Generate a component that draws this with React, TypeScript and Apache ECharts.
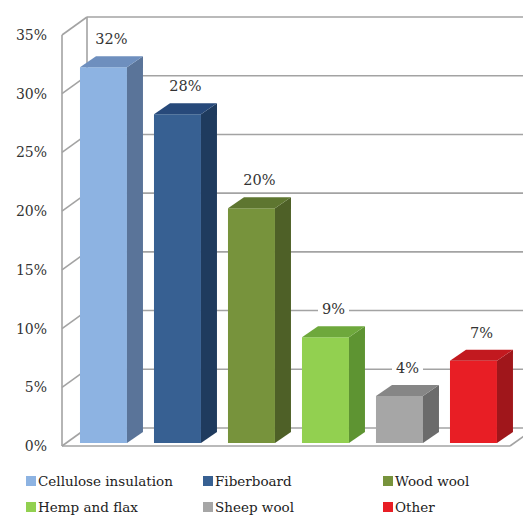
import React, { useEffect, useRef } from "react";
import * as echarts from "echarts";

const categories = ["Cellulose insulation", "Fiberboard", "Wood wool", "Hemp and flax", "Sheep wool", "Other"];
const values = [32, 28, 20, 9, 4, 7];
const frontColors = ["#8DB3E2", "#376092", "#77933C", "#92D050", "#A6A6A6", "#E81E25"];
const sideColors = ["#5A7499", "#1F3B5E", "#4E6027", "#5E9432", "#6B6B6B", "#A0161B"];
const topColors = ["#6E8FBE", "#27497A", "#5E7630", "#6EA83C", "#868686", "#C2191F"];
const yMin = 0;
const yMax = 35;
const yInterval = 5;
const yTicks = [0, 5, 10, 15, 20, 25, 30, 35];

const FONT = "DejaVu Serif";
const WALL_DX = 25;
const WALL_DY = 18;
const BAR_DX = 16;
const BAR_DY = 11;
const LINE = "#A3A3A3";

export default function App() {
  const ref = useRef<HTMLDivElement>(null);
  useEffect(() => {
    const chart = echarts.init(ref.current!, null, { renderer: "svg" });

    const barRender = (idx: number) => (params: any, api: any) => {
      const i = api.value(0);
      const v = api.value(1);
      const base = api.coord([i, 0]);
      const top = api.coord([i, v]);
      const band = api.size([1, 0])[0];
      const w = band * 0.635;
      const x0 = base[0] - band * 0.257;
      const yb = base[1] - 3;
      const yt = top[1] - 3;
      return {
        type: "group",
        children: [
          {
            type: "rect",
            shape: { x: x0, y: yt, width: w, height: yb - yt },
            style: { fill: frontColors[idx] },
          },
          {
            type: "polygon",
            shape: {
              points: [
                [x0 + w, yt],
                [x0 + w + BAR_DX, yt - BAR_DY],
                [x0 + w + BAR_DX, yb - BAR_DY],
                [x0 + w, yb],
              ],
            },
            style: { fill: sideColors[idx] },
          },
          {
            type: "polygon",
            shape: {
              points: [
                [x0, yt],
                [x0 + w, yt],
                [x0 + w + BAR_DX, yt - BAR_DY],
                [x0 + BAR_DX, yt - BAR_DY],
              ],
            },
            style: { fill: topColors[idx] },
          },
          {
            type: "text",
            style: {
              text: v + "%",
              x: x0 + (w + BAR_DX) / 2,
              y: yt - BAR_DY - 17,
              align: "center",
              verticalAlign: "middle",
              fontFamily: FONT,
              fontSize: 14.5,
              fill: "#333333",
              backgroundColor: "#ffffff",
              padding: [1, 4],
            },
          },
        ],
      };
    };

    const frameRender = (params: any, api: any) => {
      const t = api.value(1);
      const cs = params.coordSys;
      const L = cs.x;
      const R = cs.x + cs.width + 4;
      const y = api.coord([0, t])[1];
      const children: any[] = [
        {
          type: "line",
          shape: { x1: L + WALL_DX, y1: y - WALL_DY, x2: R + WALL_DX + 40, y2: y - WALL_DY },
          style: { stroke: LINE, lineWidth: 1.6 },
        },
        {
          type: "line",
          shape: { x1: L, y1: y, x2: L + WALL_DX, y2: y - WALL_DY },
          style: { stroke: LINE, lineWidth: 1.6 },
        },
      ];
      if (t === yMin) {
        const yTop = api.coord([0, yMax])[1];
        children.push(
          {
            type: "line",
            shape: { x1: L, y1: y, x2: R, y2: y },
            style: { stroke: LINE, lineWidth: 1.6 },
          },
          {
            type: "line",
            shape: { x1: R, y1: y, x2: R + WALL_DX, y2: y - WALL_DY },
            style: { stroke: LINE, lineWidth: 1.6 },
          },
          {
            type: "line",
            shape: { x1: L, y1: y, x2: L, y2: yTop },
            style: { stroke: LINE, lineWidth: 1.6 },
          },
          {
            type: "line",
            shape: { x1: L + WALL_DX, y1: y - WALL_DY, x2: L + WALL_DX, y2: yTop - WALL_DY },
            style: { stroke: LINE, lineWidth: 1.6 },
          }
        );
      }
      return { type: "group", children };
    };

    const legendLefts = [26, 203, 383];
    const legendTops = [474, 500];

    chart.setOption({
      animation: false,
      backgroundColor: "#ffffff",
      grid: { left: 62, top: 35, bottom: 70, right: 17 },
      xAxis: {
        type: "category",
        data: categories,
        axisLine: { show: false },
        axisTick: { show: false },
        axisLabel: { show: false },
        splitLine: { show: false },
      },
      yAxis: {
        type: "value",
        min: yMin,
        max: yMax,
        interval: yInterval,
        axisLine: { show: false },
        axisTick: { show: false },
        splitLine: { show: false },
        axisLabel: {
          formatter: "{value}%",
          fontFamily: FONT,
          fontSize: 14,
          color: "#333333",
          margin: 15,
        },
      },
      legend: categories.map((n, i) => ({
        data: [n],
        left: legendLefts[i % 3],
        top: legendTops[Math.floor(i / 3)],
        icon: "rect",
        itemWidth: 10,
        itemHeight: 10,
        padding: 0,
        itemGap: 0,
        selectedMode: false,
        textStyle: { fontFamily: FONT, fontSize: 13.5, color: "#222222", padding: [0, 0, 0, -3] },
      })),
      series: [
        {
          type: "custom",
          name: "frame",
          data: yTicks.map((t) => [0, t]),
          renderItem: frameRender,
          silent: true,
          z: 1,
        },
        ...categories.map((n, i) => ({
          type: "custom",
          name: n,
          data: [[i, values[i]]],
          itemStyle: { color: frontColors[i] },
          renderItem: barRender(i),
          z: 3,
        })),
      ],
    });
    return () => chart.dispose();
  }, []);
  return (
    <div
      ref={ref}
      style={{ position: "fixed", left: 0, top: 0, width: 523, height: 516, background: "#fff" }}
    />
  );
}
